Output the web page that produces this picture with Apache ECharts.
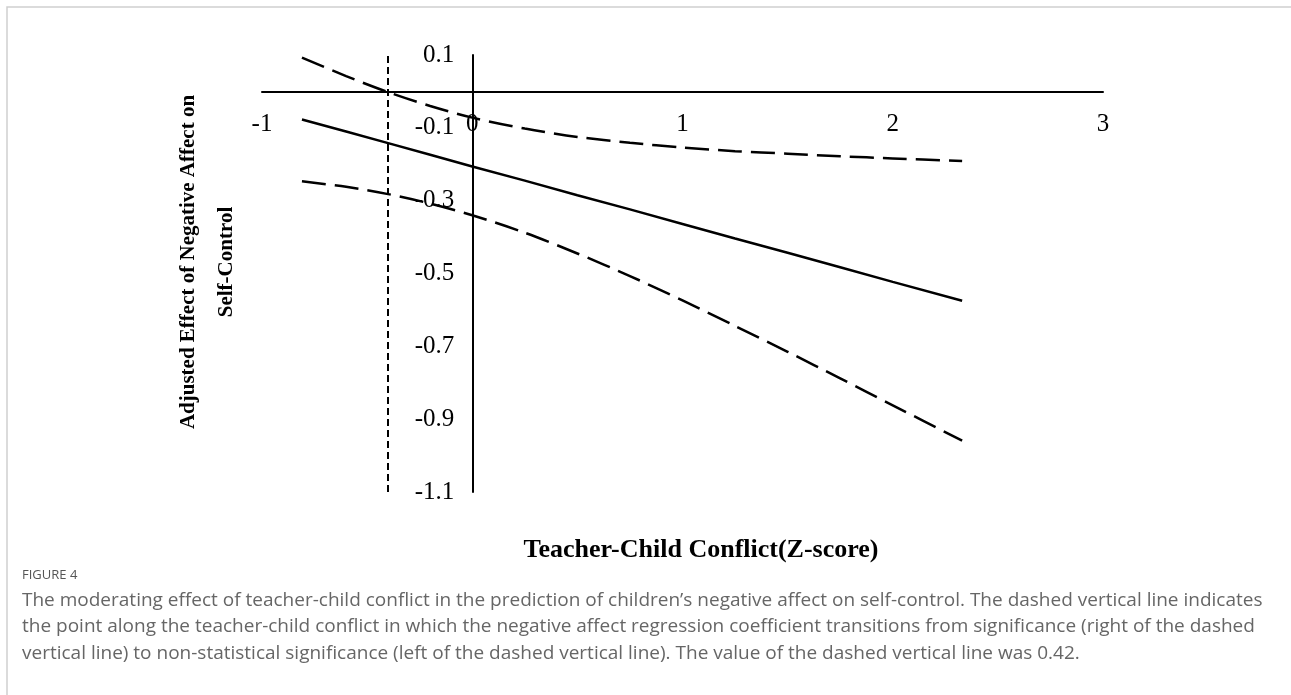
<!DOCTYPE html>
<html>
<head>
<meta charset="utf-8">
<script src="https://cdn.jsdelivr.net/npm/echarts@6/dist/echarts.min.js"></script>
<style>
    html, body {margin: 0; padding: 0; background: #fff;}
    #main {width: 1291px; height: 695px;}
</style>
</head>
<body>
<div id="main"></div>
<script>
// 横轴 Z 分数
var xVals = [-0.81, -0.6, -0.4, -0.2, 0, 0.25, 0.5, 0.75, 1, 1.25, 1.5, 1.75, 2, 2.33];
// 调节效应（实线）
var effectVals = [-0.077, -0.110, -0.142, -0.174, -0.206, -0.245, -0.285, -0.324, -0.364, -0.404, -0.443, -0.483, -0.523, -0.575];
// 置信区间上限 / 下限（虚线）
var upperVals = [0.093, 0.042, -0.002, -0.040, -0.072, -0.102, -0.125, -0.141, -0.154, -0.164, -0.171, -0.178, -0.184, -0.191];
var lowerVals = [-0.247, -0.262, -0.282, -0.308, -0.340, -0.388, -0.445, -0.507, -0.574, -0.644, -0.715, -0.788, -0.862, -0.959];
// J-N 转折点（虚竖线）
var jnPoint = -0.40;
// 坐标轴刻度
var xTicks = [-1, 0, 1, 2, 3];
var yTicks = [0.1, -0.1, -0.3, -0.5, -0.7, -0.9, -1.1];

var captionLines = [
    "The moderating effect of teacher-child conflict in the prediction of children\u2019s negative affect on self-control. The dashed vertical line indicates",
    "the point along the teacher-child conflict in which the negative affect regression coefficient transitions from significance (right of the dashed",
    "vertical line) to non-statistical significance (left of the dashed vertical line). The value of the dashed vertical line was 0.42."
];

function pairs(ys) {
    return xVals.map(function (x, i) {
        return [x, ys[i]];
    });
}

// 网格尺寸，坐标轴要移到 0 处
var gridLeft = 262, gridRight = 188, gridTop = 55, gridH = 437;
var gridW = 1291 - gridLeft - gridRight;
var xMin = xTicks[0], xMax = xTicks[xTicks.length - 1];
var yMin = yTicks[yTicks.length - 1], yMax = yTicks[0];
var xZeroOffset = -gridW * (0 - xMin) / (xMax - xMin);
var yZeroOffset = -gridH * (yMax - 0) / (yMax - yMin);

var serif = '"Liberation Serif", "Times New Roman", serif';
var chart = echarts.init(document.getElementById("main"));

var option = {
    animation: false,
    backgroundColor: "#fff",
    grid: {left: gridLeft, right: gridRight, top: gridTop, height: gridH},
    xAxis: {
        type: "value",
        position: "top",
        offset: yZeroOffset,
        min: xMin,
        max: xMax,
        interval: 1,
        axisLine: {show: true, onZero: false, lineStyle: {color: "#000", width: 2}},
        axisTick: {show: false},
        splitLine: {show: false},
        axisLabel: {
            inside: true,
            color: "#000", fontFamily: serif, fontSize: 25, margin: 21,
            showMinLabel: true, showMaxLabel: true
        }
    },
    yAxis: {
        type: "value",
        position: "left",
        offset: xZeroOffset,
        min: yMin,
        max: yMax,
        interval: 0.2,
        axisLine: {show: true, onZero: false, lineStyle: {color: "#000", width: 2}},
        axisTick: {show: false},
        splitLine: {show: false},
        axisLabel: {
            color: "#000", fontFamily: serif, fontSize: 25, margin: 18,
            showMinLabel: true, showMaxLabel: true,
            formatter: function (v) {
                return v.toFixed(1);
            }
        }
    },
    series: [
        {
            name: "effect",
            type: "line",
            data: pairs(effectVals),
            symbol: "none",
            lineStyle: {color: "#000", width: 2.5},
            markLine: {
                silent: true,
                symbol: "none",
                label: {show: false},
                lineStyle: {color: "#000", width: 2, type: [7, 4]},
                data: [{xAxis: jnPoint}]
            }
        },
        {
            name: "upper",
            type: "line",
            data: pairs(upperVals),
            smooth: 0.3,
            symbol: "none",
            lineStyle: {color: "#000", width: 2.5, type: [24, 9]}
        },
        {
            name: "lower",
            type: "line",
            data: pairs(lowerVals),
            smooth: 0.3,
            symbol: "none",
            lineStyle: {color: "#000", width: 2.5, type: [24, 9]}
        }
    ],
    graphic: [
        {
            type: "rect",
            shape: {x: 7, y: 7, width: 1320, height: 720},
            style: {fill: null, stroke: "#cfcfcf", lineWidth: 1.5},
            silent: true
        },
        {
            type: "text",
            x: 208,
            y: 262,
            rotation: Math.PI / 2,
            style: {
                text: "Adjusted Effect of Negative Affect on\nSelf-Control",
                font: "bold 21px " + serif,
                fill: "#000",
                align: "center",
                verticalAlign: "middle",
                lineHeight: 38
            }
        },
        {
            type: "text",
            x: 701,
            y: 550,
            style: {
                text: "Teacher-Child Conflict(Z-score)",
                font: "bold 26px " + serif,
                fill: "#000",
                align: "center",
                verticalAlign: "middle"
            }
        },
        {
            type: "text",
            x: 22,
            y: 575,
            style: {
                text: "FIGURE 4",
                font: "13px \"Open Sans\", sans-serif",
                fill: "#555",
                verticalAlign: "middle"
            }
        },
        {
            type: "text",
            x: 22,
            y: 587,
            style: {
                text: captionLines.join("\n"),
                font: "19px \"Open Sans\", sans-serif",
                fill: "#666",
                verticalAlign: "top",
                lineHeight: 26.5
            }
        }
    ]
};
chart.setOption(option);
</script>
</body>
</html>
